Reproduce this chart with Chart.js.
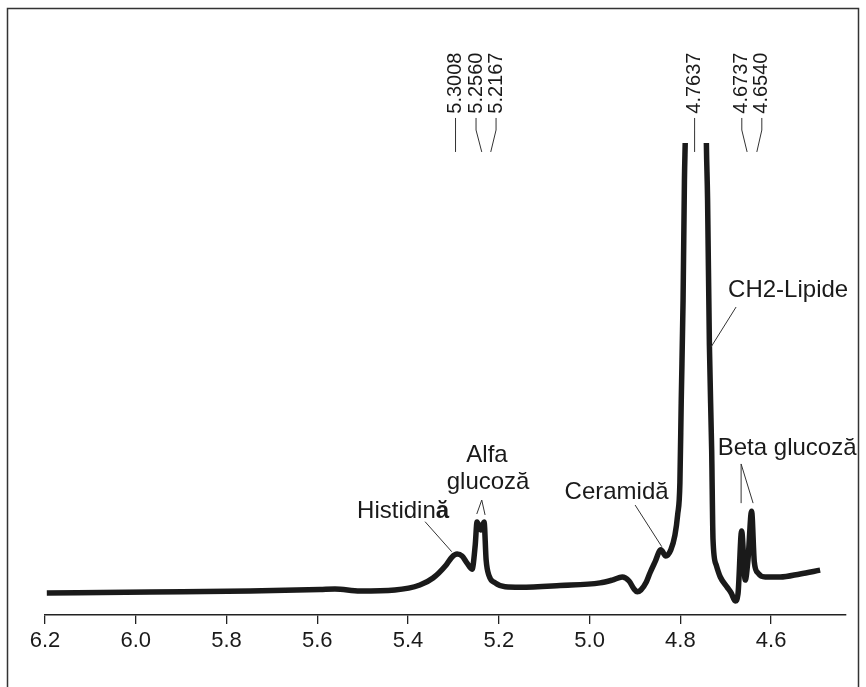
<!DOCTYPE html>
<html>
<head>
<meta charset="utf-8">
<script src="https://cdn.jsdelivr.net/npm/chart.js@4.4.1/dist/chart.umd.min.js"></script>
<style>
  html, body { margin: 0; padding: 0; background: #fff; }
  canvas { display: block; }
</style>
</head>
<body>
<canvas id="nmrChart" width="866" height="687"></canvas>
<script>
// chemical shift (ppm) and relative intensity
const ppm = [
  6.196, 5.969, 5.748, 5.594, 5.561, 5.506, 5.429, 5.374, 5.345, 5.316,
  5.303, 5.292, 5.281, 5.270, 5.259, 5.252, 5.248, 5.240, 5.2325, 5.228,
  5.2215, 5.208, 5.186, 5.153, 5.065, 4.977, 4.950, 4.928, 4.913, 4.902,
  4.895, 4.887, 4.875, 4.867, 4.856, 4.843, 4.832, 4.821, 4.812, 4.806,
  4.801, 4.798, 4.794, 4.791, 4.7885, 4.7637, 4.7433, 4.740, 4.736, 4.731,
  4.728, 4.721, 4.712, 4.697, 4.688, 4.679, 4.673, 4.665, 4.657, 4.651,
  4.643, 4.637, 4.629, 4.613, 4.580, 4.536, 4.492
];
const intensity = [
  4.66, 4.87, 5.08, 5.40, 5.51, 5.08, 5.30, 6.36, 7.84, 10.6,
  12.3, 12.9, 12.5, 11.0, 9.7, 14.8, 19.7, 18.0, 19.7, 11.7,
  8.3, 6.8, 6.0, 5.9, 6.25, 6.8, 7.4, 8.05, 7.2, 5.5,
  4.9, 5.3, 7.0, 8.9, 11.2, 13.8, 12.5, 13.8, 16.9, 21.2,
  28.0, 45.6, 66.7, 92.2, 104.9, 400, 104.9, 87.9, 57.2, 35.0,
  15.9, 10.6, 8.05, 5.9, 4.66, 2.97, 4.45, 17.8, 7.4, 11.65,
  22.0, 11.2, 8.9, 8.05, 8.05, 8.7, 9.5
];
const xTicks = [6.2, 6.0, 5.8, 5.6, 5.4, 5.2, 5.0, 4.8, 4.6];

// peak shift labels written vertically above the spectrum
const shiftLabels = ['5.3008', '5.2560', '5.2167', '4.7637', '4.6737', '4.6540'];
const shiftTop = [5.2954, 5.2502, 5.2061, 4.7686, 4.6646, 4.6205];
const shiftEnd = [5.2954, 5.2376, 5.2178, 4.7686, 4.6529, 4.6315];

// compound names
const peakNames = ['Histidină', 'Alfa', 'glucoză', 'Ceramidă', 'CH2-Lipide', 'Beta glucoză'];
const namePpm = [5.411, 5.226, 5.2237, 4.9405, 4.6948, 4.5647];
const nameLevel = [20.55, 32.4, 26.7, 24.6, 67.4, 33.9];

const FONT = '"Liberation Sans", Arial, Helvetica, sans-serif';
const INK = '#1a1a1a';

const annotate = {
  id: 'annotate',
  afterDraw(chart) {
    const { ctx } = chart;
    const x = chart.scales.x, y = chart.scales.y;
    const px = v => x.getPixelForValue(v);
    const py = v => y.getPixelForValue(v);

    ctx.save();
    // frame
    ctx.strokeStyle = '#333';
    ctx.lineWidth = 1.5;
    ctx.strokeRect(7.5, 8.5, 851, 700);

    // vertical shift labels + leader lines
    ctx.fillStyle = INK;
    ctx.strokeStyle = '#333';
    ctx.lineWidth = 1;
    ctx.font = '20px ' + FONT;
    shiftLabels.forEach((t, i) => {
      const xt = px(shiftTop[i]), xe = px(shiftEnd[i]);
      ctx.beginPath();
      ctx.moveTo(xt, py(105.3));
      ctx.lineTo(xt, py(102.75));
      ctx.lineTo(xe, py(98.1));
      ctx.stroke();
      ctx.save();
      ctx.translate(xt, py(106.2));
      ctx.rotate(-Math.PI / 2);
      ctx.textAlign = 'left';
      ctx.textBaseline = 'middle';
      ctx.fillText(t, 0, 0);
      ctx.restore();
    });

    // names
    ctx.font = '24px ' + FONT;
    ctx.textBaseline = 'alphabetic';
    peakNames.forEach((t, i) => {
      const xx = px(namePpm[i]), yy = py(nameLevel[i]);
      if (i === 0) {
        // the last letter is set bold in the original figure
        const head = t.slice(0, -1), tail = t.slice(-1);
        ctx.font = '24px ' + FONT;
        const w1 = ctx.measureText(head).width;
        ctx.font = 'bold 24px ' + FONT;
        const w2 = ctx.measureText(tail).width;
        const x0 = xx - (w1 + w2) / 2;
        ctx.textAlign = 'left';
        ctx.font = '24px ' + FONT;
        ctx.fillText(head, x0, yy);
        ctx.font = 'bold 24px ' + FONT;
        ctx.fillText(tail, x0 + w1, yy);
        ctx.font = '24px ' + FONT;
      } else if (i === 4) {
        ctx.textAlign = 'left';
        ctx.fillText(t, xx, yy);
      } else {
        ctx.textAlign = 'center';
        ctx.fillText(t, xx, yy);
      }
    });

    // pointers
    const seg = (a, b, c, d) => {
      ctx.beginPath();
      ctx.moveTo(px(a), py(b));
      ctx.lineTo(px(c), py(d));
      ctx.stroke();
    };
    ctx.lineWidth = 1;
    seg(5.3625, 19.77, 5.3037, 13.41);   // Histidina
    seg(5.2376, 24.36, 5.2486, 21.4);    // Alfa glucoza
    seg(5.2376, 24.36, 5.2303, 21.2);
    seg(4.8997, 23.3, 4.8409, 14.47);    // Ceramida
    seg(4.6772, 65.25, 4.7322, 56.8);    // CH2-Lipide
    seg(4.6661, 32.0, 4.6661, 23.7);     // Beta glucoza
    seg(4.6661, 32.0, 4.6397, 23.7);
    ctx.restore();
  }
};

new Chart(document.getElementById('nmrChart'), {
  type: 'line',
  data: {
    datasets: [{
      data: ppm.map((v, i) => ({ x: v, y: intensity[i] })),
      borderColor: INK,
      borderWidth: 5.5,
      pointRadius: 0,
      fill: false,
      cubicInterpolationMode: 'monotone',
      borderJoinStyle: 'round',
      borderCapStyle: 'butt',
      clip: { left: 10, right: 10, top: 0, bottom: 10 }
    }]
  },
  options: {
    responsive: false,
    animation: false,
    devicePixelRatio: 1,
    layout: { padding: { left: 45, right: 20, top: 143, bottom: 0 } },
    plugins: {
      legend: { display: false },
      tooltip: { enabled: false }
    },
    scales: {
      x: {
        type: 'linear',
        reverse: true,
        min: 4.435,
        max: 6.2,
        afterBuildTicks: s => { s.ticks = xTicks.map(v => ({ value: v })); },
        afterFit: s => { s.height = 72; },
        grid: { drawOnChartArea: false, drawTicks: true, tickLength: 9, color: '#222', lineWidth: 1.3 },
        border: { display: true, color: '#222', width: 1.5 },
        ticks: {
          color: INK,
          font: { family: FONT, size: 22 },
          padding: 4,
          maxRotation: 0,
          autoSkip: false,
          callback: v => v.toFixed(1)
        }
      },
      y: { display: false, min: 0, max: 100 }
    }
  },
  plugins: [annotate]
});
</script>
</body>
</html>
